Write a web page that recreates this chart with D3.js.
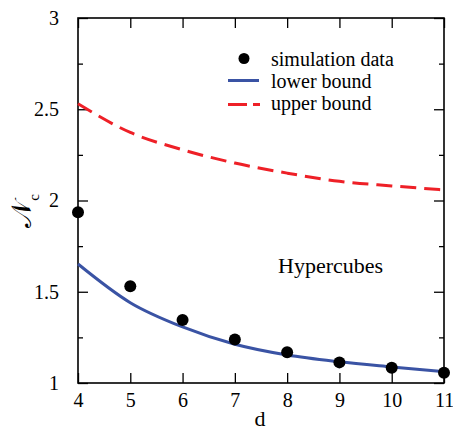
<!DOCTYPE html>
<html>
<head>
<meta charset="UTF-8">
<script src="https://cdn.jsdelivr.net/npm/d3@7"></script>
</head>
<body style="margin:0">
<script>
// data
const dims = [4, 5, 6, 7, 8, 9, 10, 11];
const simData = [1.935, 1.53, 1.345, 1.238, 1.168, 1.113, 1.084, 1.056];
const lowerBound = [1.652, 1.44, 1.307, 1.212, 1.153, 1.116, 1.088, 1.062];
const upperBound = [2.53, 2.373, 2.278, 2.205, 2.15, 2.105, 2.08, 2.058];
const xTicks = [4, 5, 6, 7, 8, 9, 10, 11];
const yTicks = [1, 1.5, 2, 2.5, 3];
const yMinor = [1.25, 1.75, 2.25, 2.75];

const w = 453, h = 431;
const svg = d3.select("body").append("svg")
  .attr("width", w).attr("height", h)
  .attr("style", "font-family: 'Liberation Serif'; font-size: 20px");

const x = d3.scaleLinear().domain([4, 11]).range([78, 444]);
const y = d3.scaleLinear().domain([1, 3]).range([383, 18]);

// axes, ticks pointing inward
function styleAxis(g) {
  g.attr("font-family", null).attr("font-size", null);
  g.select(".domain").remove();
  g.selectAll("line").attr("stroke", "#000").attr("stroke-width", 1.3);
  g.selectAll("text").attr("fill", "#000");
}

svg.append("g").attr("transform", "translate(0,383)")
  .call(d3.axisBottom(x).tickValues(xTicks).tickSize(-10).tickFormat(d3.format("d")))
  .call(styleAxis)
  .selectAll("text").attr("dy", "0.72em").attr("y", 10);

svg.append("g").attr("transform", "translate(0,18)")
  .call(d3.axisTop(x).tickValues(xTicks).tickSize(-10).tickFormat(""))
  .call(styleAxis);

svg.append("g").attr("transform", "translate(78,0)")
  .call(d3.axisLeft(y).tickValues(yTicks).tickSize(-10).tickPadding(19).tickFormat(d => d3.format("")(d)))
  .call(styleAxis);
svg.append("g").attr("transform", "translate(78,0)")
  .call(d3.axisLeft(y).tickValues(yMinor).tickSize(-5).tickFormat(""))
  .call(styleAxis);

svg.append("g").attr("transform", "translate(444,0)")
  .call(d3.axisRight(y).tickValues(yTicks).tickSize(-10).tickFormat(""))
  .call(styleAxis);
svg.append("g").attr("transform", "translate(444,0)")
  .call(d3.axisRight(y).tickValues(yMinor).tickSize(-5).tickFormat(""))
  .call(styleAxis);

// frame
svg.append("rect")
  .attr("x", x(4)).attr("y", y(3))
  .attr("width", x(11) - x(4)).attr("height", y(1) - y(3))
  .attr("fill", "none").attr("stroke", "#000").attr("stroke-width", 1.6);

// curves
const line = d3.line()
  .x((d, i) => x(dims[i]))
  .y(d => y(d))
  .curve(d3.curveMonotoneX);

svg.append("path").datum(upperBound)
  .attr("d", line)
  .attr("fill", "none").attr("stroke", "#ee2027")
  .attr("stroke-width", 3).attr("stroke-dasharray", "16,8");

svg.append("path").datum(lowerBound)
  .attr("d", line)
  .attr("fill", "none").attr("stroke", "#3a53a4")
  .attr("stroke-width", 3);

svg.append("g").selectAll("circle")
  .data(simData)
  .enter().append("circle")
  .attr("cx", (d, i) => x(dims[i]))
  .attr("cy", d => y(d))
  .attr("r", 6)
  .attr("fill", "#000");

// legend
const leg = svg.append("g");
leg.append("circle").attr("cx", 244).attr("cy", 58.5).attr("r", 5.5).attr("fill", "#000");
leg.append("text").attr("x", 271).attr("y", 66).text("simulation data");
leg.append("line").attr("x1", 228).attr("x2", 259).attr("y1", 80.5).attr("y2", 80.5)
  .attr("stroke", "#3a53a4").attr("stroke-width", 3);
leg.append("text").attr("x", 271).attr("y", 88).text("lower bound");
leg.append("line").attr("x1", 228).attr("x2", 260).attr("y1", 104.5).attr("y2", 104.5)
  .attr("stroke", "#ee2027").attr("stroke-width", 3).attr("stroke-dasharray", "19,6");
leg.append("text").attr("x", 271).attr("y", 110).text("upper bound");

svg.append("text").attr("x", 278).attr("y", 273)
  .style("font-size", "22px").text("Hypercubes");

// axis titles
svg.append("text").attr("x", 260).attr("y", 426)
  .attr("text-anchor", "middle").style("font-size", "22px").text("d");

const yl = svg.append("text")
  .attr("transform", "translate(31,211) rotate(-90)")
  .attr("text-anchor", "middle")
  .style("font-size", "28px");
yl.append("tspan").text("𝒩");
yl.append("tspan").attr("baseline-shift", "sub").style("font-size", "15px").text("c");
</script>
</body>
</html>
